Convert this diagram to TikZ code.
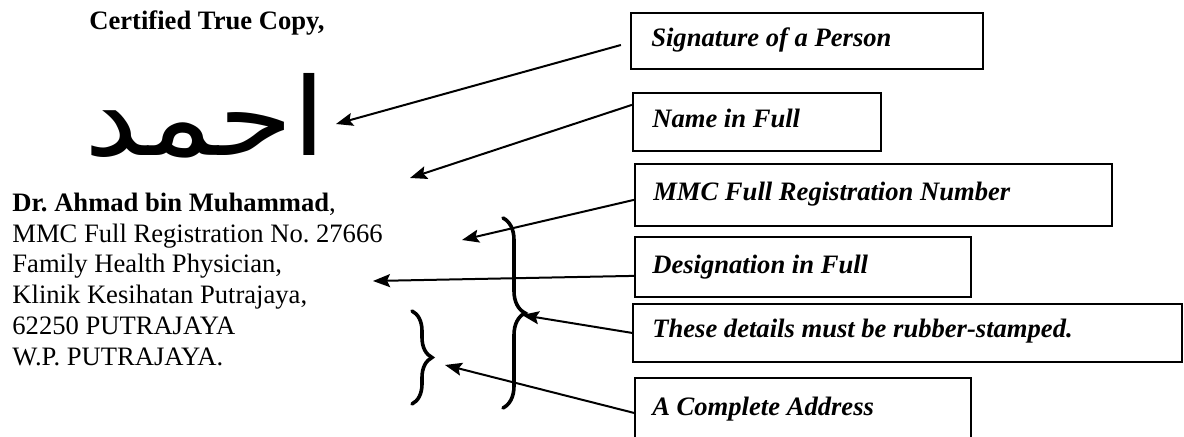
\documentclass[tikz,border=0pt]{standalone}
\usepackage{fontspec}
\setmainfont{Liberation Serif}
\newfontfamily\arabicfont[Script=Arabic]{DejaVu Sans}
\TeXXeTstate=1
\frenchspacing
\usetikzlibrary{arrows.meta,decorations.pathreplacing,fit,calc}
\begin{document}
\begin{tikzpicture}[x=0.5pt,y=-0.5pt,
  txt/.style={font=\fontsize{13.3pt}{15.5pt}\selectfont, inner sep=0pt, anchor=base west},
  box/.style={draw, line width=1.1pt, inner sep=0pt},
  boxtext/.style={font=\fontsize{13.3pt}{15.5pt}\selectfont\bfseries\itshape, inner sep=0pt, anchor=base west},
  arr/.style={-{Stealth[length=8.5pt,width=6.5pt,inset=1.5pt]}, line width=1pt},
  bracebig/.style={decorate, decoration={brace, amplitude=11pt}, line width=1.8pt, line cap=round},
  bracesmall/.style={decorate, decoration={brace, amplitude=10pt}, line width=1.8pt, line cap=round}]
\clip (0,0) rectangle (1184,437);
\fill[white] (0,0) rectangle (1184,437);

% left side text
\node[txt, anchor=base, font=\fontsize{13.3pt}{15.5pt}\selectfont\bfseries] (cert) at (207,30) {Certified True Copy,};
\node[inner sep=0pt, anchor=base east, font=\fontsize{54pt}{60pt}\arabicfont] (sig) at (327,156) {\scalebox{1.12}[1]{\beginR احمد\endR}};
\node[txt] (l1) at (12,212) {\textbf{Dr. Ahmad bin Muhammad},};
\node[txt] (l2) at (12,243) {MMC Full Registration No. 27666};
\node[txt] (l3) at (12,273) {Family Health Physician,};
\node[txt] (l4) at (12,304) {Klinik Kesihatan Putrajaya,};
\node[txt] (l5) at (12,335) {62250 PUTRAJAYA};
\node[txt] (l6) at (12,366) {W.P. PUTRAJAYA.};

% boxes
\node[box, fit={(631,13) (983,69)}] (b1) {};
\node[box, fit={(633,93) (881,151)}] (b2) {};
\node[box, fit={(635,164) (1112,226)}] (b3) {};
\node[box, fit={(635,237) (971,297)}] (b4) {};
\node[box, fit={(633,304) (1182,362)}] (b5) {};
\node[box, fit={(635,378) (971,470)}] (b6) {};

\node[boxtext] (b1t) at ($(b1.north west)+(21,35)$) {Signature of a Person};
\node[boxtext] (b2t) at ($(b2.north west)+(20,36)$) {Name in Full};
\node[boxtext] (b3t) at ($(b3.north west)+(19,38)$) {MMC Full Registration Number};
\node[boxtext] (b4t) at ($(b4.north west)+(18,38)$) {Designation in Full};
\node[boxtext] (b5t) at ($(b5.north west)+(20,35)$) {These details must be rubber-stamped.};
\node[boxtext] (b6t) at ($(b6.north west)+(18,39)$) {A Complete Address};

% arrow targets
\coordinate (t1) at (336,124);
\coordinate (t2) at (410,178);
\coordinate (t3) at (462,240);
\coordinate (t4) at (373,281);
\coordinate (t5) at (522,315);
\coordinate (t6) at (445,365);

\draw[arr] ($(b1.west)+(-9,4)$) -- (t1);
\draw[arr] ($(b2.north west)+(0,13)$) -- (t2);
\draw[arr] ($(b3.north west)+(0,37)$) -- (t3);
\draw[arr] ($(b4.north west)+(0,40)$) -- (t4);
\draw[arr] ($(b5.north west)+(0,30)$) -- (t5);
\draw[arr] ($(b6.north west)+(0,36)$) -- (t6);

% braces
\coordinate (bbt) at (503,218);
\coordinate (bbb) at (503,408);
\coordinate (sbt) at (412,311);
\coordinate (sbb) at (412,404);
\draw[bracebig] (bbt) -- (bbb);
\draw[bracesmall] (sbt) -- (sbb);
\end{tikzpicture}
\end{document}
